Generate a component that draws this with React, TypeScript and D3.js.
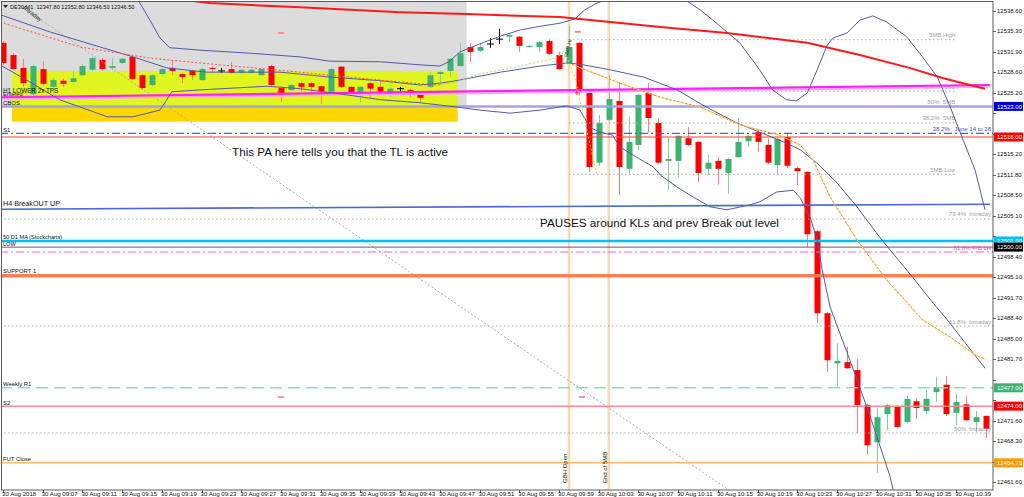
import React from "react";
import * as d3 from "d3";

// ---------- candle data (DE30, M1, 30 Aug 2018, 09:03 .. 10:42) ----------
const opens = [
  12533.4, 12531.4, 12529.3, 12525.0, 12529.1, 12526.2, 12527.2, 12527.0, 12528.1, 12529.0,
  12530.6, 12529.3, 12530.1, 12531.1, 12528.1, 12526.5, 12528.3, 12529.3, 12528.3, 12528.8,
  12527.3, 12529.3, 12528.8, 12529.1, 12528.5, 12528.5, 12528.1, 12529.6, 12526.0, 12525.7,
  12526.8, 12526.8, 12526.3, 12525.4, 12529.5, 12526.2, 12525.2, 12526.8, 12526.2, 12525.0,
  12525.9, 12525.7, 12524.9, 12526.2, 12528.3, 12528.8, 12529.6, 12532.7, 12532.1, 12533.2,
  12534.0, 12534.4, 12534.4, 12532.7, 12532.7, 12533.7, 12531.4, 12530.1, 12533.4, 12525.2,
  12513.8, 12520.8, 12523.9, 12512.8, 12516.7, 12525.2, 12520.3, 12514.1, 12514.1, 12517.8,
  12517.2, 12512.8, 12514.1, 12512.1, 12514.7, 12517.3, 12518.8, 12516.7, 12513.4, 12518.0,
  12512.9, 12512.3, 12502.6, 12489.2, 12481.0, 12481.2, 12479.9, 12474.2, 12468.1, 12472.7,
  12473.9, 12471.4, 12474.8, 12473.2, 12476.3, 12477.5, 12472.9, 12474.3, 12471.4, 12472.4,
];
const highs = [
  12533.7, 12531.7, 12530.8, 12529.8, 12530.4, 12527.6, 12527.5, 12528.8, 12529.9, 12531.1,
  12530.9, 12530.9, 12530.9, 12531.2, 12528.3, 12528.3, 12529.3, 12530.6, 12528.5, 12529.0,
  12529.3, 12529.5, 12529.3, 12530.3, 12529.1, 12529.1, 12529.3, 12529.8, 12526.3, 12526.7,
  12527.0, 12527.0, 12526.5, 12529.3, 12529.6, 12526.3, 12526.3, 12527.0, 12527.2, 12526.0,
  12526.2, 12525.9, 12525.0, 12528.6, 12528.8, 12530.9, 12533.4, 12533.4, 12533.4, 12534.2,
  12535.7, 12535.0, 12534.5, 12533.0, 12533.7, 12534.0, 12531.9, 12536.3, 12533.5, 12525.4,
  12521.6, 12528.1, 12527.0, 12521.3, 12525.0, 12526.8, 12521.1, 12518.0, 12518.3, 12519.6,
  12517.3, 12515.1, 12514.7, 12514.6, 12521.1, 12518.3, 12519.3, 12517.8, 12517.8, 12518.7,
  12513.1, 12512.4, 12502.8, 12489.4, 12484.3, 12483.7, 12481.7, 12474.3, 12473.7, 12474.3,
  12474.2, 12475.7, 12475.3, 12476.6, 12478.8, 12478.9, 12476.1, 12475.7, 12473.2, 12472.5,
];
const lows = [
  12529.8, 12529.0, 12526.2, 12524.5, 12526.5, 12525.0, 12526.2, 12526.8, 12528.0, 12528.8,
  12528.8, 12529.0, 12529.9, 12527.3, 12525.7, 12526.3, 12528.1, 12528.1, 12526.8, 12527.3,
  12527.2, 12528.5, 12528.5, 12528.3, 12528.3, 12528.3, 12528.0, 12526.2, 12523.7, 12525.5,
  12525.4, 12525.4, 12523.4, 12525.2, 12526.0, 12525.0, 12523.6, 12524.5, 12525.2, 12524.5,
  12525.4, 12524.5, 12523.7, 12526.0, 12527.0, 12527.8, 12529.5, 12530.3, 12531.9, 12532.6,
  12533.2, 12533.5, 12531.9, 12532.6, 12531.9, 12531.4, 12529.0, 12529.9, 12524.9, 12512.3,
  12513.3, 12520.6, 12508.5, 12511.8, 12515.9, 12518.7, 12513.6, 12509.3, 12511.3, 12516.5,
  12510.6, 12511.8, 12510.2, 12508.7, 12514.6, 12516.4, 12515.6, 12513.6, 12511.8, 12512.9,
  12510.2, 12500.0, 12487.6, 12479.6, 12477.0, 12480.1, 12469.6, 12466.0, 12463.1, 12470.1,
  12470.4, 12471.2, 12471.9, 12472.7, 12474.7, 12472.4, 12470.9, 12471.6, 12469.8, 12468.8,
];
const closes = [
  12530.1, 12529.1, 12526.8, 12529.6, 12526.7, 12527.3, 12526.7, 12527.6, 12529.6, 12530.9,
  12529.1, 12529.6, 12530.8, 12527.5, 12526.0, 12528.1, 12529.1, 12528.8, 12527.8, 12528.1,
  12529.1, 12529.1, 12528.8, 12528.5, 12529.0, 12529.0, 12529.1, 12526.5, 12525.2, 12526.5,
  12526.2, 12526.2, 12525.5, 12529.1, 12526.2, 12525.2, 12526.2, 12525.9, 12525.4, 12525.9,
  12525.9, 12525.2, 12524.4, 12528.1, 12528.6, 12530.8, 12531.7, 12531.9, 12532.7, 12533.2,
  12534.0, 12534.7, 12532.9, 12532.9, 12533.5, 12531.6, 12529.1, 12532.7, 12525.4, 12513.1,
  12520.3, 12524.2, 12513.1, 12517.2, 12524.9, 12521.1, 12513.8, 12514.4, 12518.2, 12516.7,
  12512.1, 12513.8, 12512.8, 12514.4, 12517.2, 12518.2, 12517.2, 12513.8, 12517.7, 12513.3,
  12512.4, 12502.1, 12489.2, 12481.5, 12481.4, 12480.2, 12474.2, 12467.6, 12472.2, 12474.2,
  12470.6, 12475.2, 12473.7, 12475.2, 12477.1, 12472.7, 12474.7, 12471.7, 12472.2, 12470.3,
];

// ---------- axis ticks ----------
const timeTickBars = [0, 4, 8, 12, 16, 20, 24, 28, 32, 36, 40, 44, 48, 52, 56, 60, 64, 68, 72, 76, 80, 84, 88, 92, 96];
const timeTickLabels = [
  "30 Aug 2018", "30 Aug 09:07", "30 Aug 09:11", "30 Aug 09:15", "30 Aug 09:19", "30 Aug 09:23",
  "30 Aug 09:27", "30 Aug 09:31", "30 Aug 09:35", "30 Aug 09:39", "30 Aug 09:43", "30 Aug 09:47",
  "30 Aug 09:51", "30 Aug 09:55", "30 Aug 09:59", "30 Aug 10:03", "30 Aug 10:07", "30 Aug 10:11",
  "30 Aug 10:15", "30 Aug 10:19", "30 Aug 10:23", "30 Aug 10:27", "30 Aug 10:31", "30 Aug 10:35",
  "30 Aug 10:39",
];
const priceTicks = [
  12538.6, 12535.3, 12531.9, 12528.6, 12525.2, 12521.9, 12518.5, 12515.2, 12511.8, 12508.5,
  12505.1, 12501.8, 12498.4, 12495.1, 12491.7, 12488.4, 12485.0, 12481.7, 12478.3, 12475.0,
  12471.6, 12468.3, 12464.9, 12461.6,
];

// ---------- indicators: [bar, price] ----------
const upperBand: [number, number][] = [
  [13.6, 12540.4], [14.8, 12537.1], [15.8, 12534.2], [16.8, 12532.6], [19.8, 12532.2], [24.9, 12531.7],
  [29.9, 12531.1], [32.9, 12530.4], [38.0, 12530.3], [42.0, 12529.8], [44.0, 12529.6], [45.0, 12530.4],
  [46.0, 12531.9], [48.0, 12533.2], [50.1, 12534.5], [52.1, 12535.5], [54.1, 12536.1], [56.1, 12536.6],
  [57.6, 12537.3], [58.6, 12538.8], [59.6, 12539.7], [60.6, 12540.4], [62.1, 12542.0], [64.1, 12543.7],
  [66.7, 12542.4], [68.7, 12540.4], [70.2, 12538.8], [71.5, 12537.1], [74.2, 12533.4], [76.2, 12529.0],
  [77.5, 12525.7], [78.9, 12524.1], [79.9, 12523.9], [81.0, 12525.2], [82.0, 12529.0], [83.0, 12533.0],
  [83.6, 12534.2], [85.0, 12535.0], [86.3, 12537.1], [87.6, 12537.8], [89.0, 12536.8], [91.0, 12534.4],
  [92.6, 12531.1], [94.1, 12527.8], [95.4, 12522.9], [96.7, 12517.5], [97.9, 12512.6], [98.9, 12506.1],
];
const middleBand: [number, number][] = [
  [-0.3, 12538.0], [4.7, 12535.2], [9.8, 12532.7], [13.1, 12531.1], [16.5, 12529.3], [20.5, 12528.6],
  [27.9, 12528.6], [32.9, 12527.8], [38.0, 12527.2], [42.0, 12526.5], [44.0, 12526.8], [46.0, 12527.3],
  [50.1, 12528.6], [54.1, 12529.6], [56.8, 12530.1], [58.1, 12529.9], [61.1, 12529.0], [64.5, 12527.8],
  [67.9, 12525.7], [70.5, 12523.2], [73.9, 12520.3], [76.2, 12518.8], [78.9, 12517.0], [80.3, 12515.9],
  [82.0, 12513.7], [84.0, 12510.5], [86.0, 12506.6], [88.3, 12501.6], [91.6, 12495.1], [93.4, 12491.4],
  [95.1, 12488.1], [98.9, 12480.2],
];
const lowerBand: [number, number][] = [
  [-0.3, 12529.8], [2.7, 12527.0], [5.7, 12524.1], [10.5, 12521.3], [13.1, 12521.3], [15.8, 12522.4],
  [16.5, 12524.1], [17.0, 12525.4], [19.8, 12525.7], [26.6, 12526.3], [29.9, 12525.9], [34.6, 12524.9],
  [38.0, 12524.1], [42.0, 12523.6], [45.7, 12522.9], [48.0, 12522.4], [51.1, 12521.9], [54.1, 12522.4],
  [56.8, 12523.1], [58.1, 12522.4], [59.1, 12519.6], [60.1, 12518.8], [61.4, 12518.3], [62.1, 12516.4],
  [63.4, 12515.1], [65.5, 12513.1], [66.2, 12511.8], [67.9, 12509.8], [69.5, 12508.2], [71.2, 12506.6],
  [72.9, 12506.1], [75.2, 12506.9], [76.2, 12507.4], [77.9, 12509.0], [79.6, 12509.3], [80.3, 12508.0],
  [81.3, 12504.8], [82.0, 12501.2], [82.5, 12496.3], [83.3, 12490.2], [85.3, 12481.5], [87.3, 12472.5],
  [89.3, 12462.7], [89.9, 12458.6],
];
const slowMA: [number, number][] = [
  [16.8, 12540.7], [20.8, 12539.9], [29.9, 12539.2], [40.0, 12538.4], [46.7, 12538.1], [56.1, 12537.6],
  [66.2, 12536.0], [72.9, 12535.0], [81.0, 12533.4], [86.3, 12531.4], [91.3, 12529.3], [94.7, 12527.6],
  [98.9, 12525.9],
];
const maFalling: [number, number][] = [
  [-0.3, 12536.8], [7.8, 12532.7], [14.8, 12530.9], [19.8, 12530.1], [29.9, 12528.6], [38.0, 12527.3],
  [42.0, 12526.7], [44.0, 12526.5],
];
const maRising: [number, number][] = [
  [44.0, 12526.5], [46.0, 12527.2], [48.0, 12528.3], [52.1, 12529.6], [55.6, 12530.9],
];
const fastMA: [number, number][] = [
  [55.6, 12530.9], [56.6, 12531.9], [57.6, 12527.6], [58.6, 12520.5], [59.8, 12511.9],
];
const orangeMA: [number, number][] = [
  [57.3, 12529.9], [58.6, 12529.0], [60.1, 12528.1], [62.1, 12526.8], [64.1, 12525.7], [66.2, 12524.5],
  [70.2, 12522.9], [74.2, 12520.0], [78.2, 12518.3], [80.3, 12516.7], [81.6, 12514.2], [83.3, 12508.2],
  [86.0, 12501.2], [89.0, 12494.6], [90.8, 12491.4], [92.6, 12488.1], [95.4, 12485.3], [97.9, 12482.4],
  [98.9, 12481.7],
];

// ---------- chart objects ----------
const greyZoneBars = [-0.5, 46.7];
const greyZonePrices = [12523.0, 12542.0];
const yellowZoneBars = [0.9, 45.8];
const yellowZonePrices = [12523.0, 12528.8];
const goldZonePrices = [12520.5, 12523.0];

const lowerTrendBars = [-0.3, 99.4];
const lowerTrendPrices = [12524.5, 12526.5];
const breakoutBars = [-0.3, 99.4];
const breakoutPrices = [12506.2, 12507.0];
const diagonalBars = [0.9, 73.0];
const diagonalPrices = [12540.4, 12460.4];

const smbBars = [57, 95.9];
const smbPrices = [12533.9, 12525.5, 12523.0, 12520.3, 12511.9];
const smbLabels = ["5MB High", "61.8%  5MB", "50%  5MB", "38.2%  5MB", "5MB Low"];
const intradayPrices = [12504.6, 12487.1, 12469.6];
const intradayLabels = ["73.4%  Intraday", "61.8%  Intraday", "50%  Intraday"];

const cbosPrice = 12523.0;
const s1Price = 12518.6;
const redLevelPrice = 12518.0;
const d1MaPrice = 12501.0;
const lowPrice = 12500.0;
const fib1hPrice = 12499.2;
const support1Price = 12495.3;
const weeklyR1Price = 12477.0;
const s2Price = 12474.0;
const futClosePrice = 12464.73;

const verticalBars = [57, 61];
const verticalLabels = ["GBH Open", "End of 5MB"];

const tradeDashBars = [28, 57.9, 28, 58.3];
const tradeDashPrices = [12535.0, 12535.2, 12475.5, 12475.5];
const crossBars = [27.8, 57.8];
const crossPrices = [12525.4, 12525.2];

const boxPrices = [12523.0, 12518.0, 12501.0, 12500.0, 12477.0, 12474.0, 12464.73];
const boxFills = ["#0000d8", "#ff0000", "#00bfff", "#000000", "#3cb371", "#ff0000", "#ff9900"];

export default function App() {
  const W = 1024;
  const H = 497;
  const plotR = 993;
  const plotB = 490;
  const font = "'Liberation Sans', Arial, sans-serif";

  const x = d3.scaleLinear().domain([0, 99]).range([3, 986]);
  const y = d3.scaleLinear().domain([12461.6, 12538.6]).range([482, 11]);
  const line = d3.line<[number, number]>().x((d) => x(d[0])).y((d) => y(d[1]));
  const band = "#5757aa";
  const dotted = "1.5 2.5";

  const visibleTicks = priceTicks.filter((p) => boxPrices.every((b) => Math.abs(y(b) - y(p)) > 8.5));

  const hLine = (p: number, stroke: string, sw: number, dash?: string, key?: string) => (
    <line key={key} x1={0} x2={plotR} y1={y(p)} y2={y(p)} stroke={stroke} strokeWidth={sw} strokeDasharray={dash} />
  );
  const leftLabel = (p: number, text: string, size = 6, dy = -2) => (
    <text x={3} y={y(p) + dy} fontSize={size} fill="#111" style={{ whiteSpace: "pre" }}>{text}</text>
  );
  const rightLabel = (p: number, text: string, fill: string, key?: string, endX = 991) => (
    <text key={key} x={endX} y={y(p) - 2.5} fontSize={6} fill={fill} textAnchor="end" style={{ whiteSpace: "pre" }}>{text}</text>
  );

  return (
    <div style={{ position: "fixed", left: 0, top: 0, width: W, height: H, background: "#fff" }}>
      <svg width={W} height={H} style={{ display: "block" }} fontFamily={font}>
        <defs>
          <clipPath id="plot">
            <rect x={1.5} y={1.5} width={plotR - 1.5} height={plotB - 1.5} />
          </clipPath>
        </defs>
        <rect x={0} y={0} width={W} height={H} fill="#fff" />

        <g clipPath="url(#plot)">
          {/* background zones */}
          <rect x={x(greyZoneBars[0])} width={x(greyZoneBars[1]) - x(greyZoneBars[0])}
            y={y(greyZonePrices[1])} height={y(greyZonePrices[0]) - y(greyZonePrices[1])} fill="#dcdcdc" />
          <rect x={x(yellowZoneBars[0])} width={x(yellowZoneBars[1]) - x(yellowZoneBars[0])}
            y={y(yellowZonePrices[1])} height={y(yellowZonePrices[0]) - y(yellowZonePrices[1])} fill="#e1f51f" />
          <rect x={x(yellowZoneBars[0])} width={x(yellowZoneBars[1]) - x(yellowZoneBars[0])}
            y={y(goldZonePrices[1])} height={y(goldZonePrices[0]) - y(goldZonePrices[1])} fill="#ffd700" />

          {/* vertical session lines */}
          {verticalBars.map((b, i) => (
            <line key={"v" + i} x1={x(b)} x2={x(b)} y1={0} y2={plotB} stroke="#ffd7b0" strokeWidth={2.5} />
          ))}

          {/* candles */}
          {opens.map((o, i) => {
            const c = closes[i];
            const up = c > o;
            const flat = c === o;
            const body = flat ? "#000" : up ? "#3cb371" : "#ff0000";
            const wick = flat ? "#000" : up ? "#7fcfa0" : "#ff7a7a";
            const cx = Math.round(x(i)) + 0.5;
            const top = y(Math.max(o, c));
            const bot = y(Math.min(o, c));
            return (
              <g key={"c" + i}>
                <line x1={cx} x2={cx} y1={y(highs[i])} y2={y(lows[i])} stroke={wick} strokeWidth={1} />
                {flat ? (
                  <line x1={cx - 3.5} x2={cx + 3.5} y1={top} y2={top} stroke="#000" strokeWidth={1} />
                ) : (
                  <rect x={cx - 3} y={top} width={6} height={Math.max(1, bot - top)} fill={body} />
                )}
              </g>
            );
          })}

          {/* diagonal trend line */}
          <line x1={x(diagonalBars[0])} y1={y(diagonalPrices[0])} x2={x(diagonalBars[1])} y2={y(diagonalPrices[1])}
            stroke="#aaa" strokeWidth={1} strokeDasharray="2 2" />

          {/* 5MB levels */}
          {smbPrices.map((p, i) => (
            <g key={"s" + i}>
              <line x1={x(smbBars[0])} x2={x(smbBars[1])} y1={y(p)} y2={y(p)} stroke="#a8a8a8" strokeWidth={1} strokeDasharray={dotted} />
              {rightLabel(p, smbLabels[i], "#a0a0a0", undefined, x(smbBars[1]))}
            </g>
          ))}
          {/* intraday fib levels */}
          {intradayPrices.map((p, i) => (
            <g key={"in" + i}>
              {hLine(p, "#a8a8a8", 1, dotted)}
              {rightLabel(p, intradayLabels[i], "#a0a0a8")}
            </g>
          ))}

          {/* horizontal levels */}
          {hLine(cbosPrice, "#a4a4e0", 2.5)}
          {hLine(s1Price, "#4a5ee8", 1.2, "8 3 2 3")}
          {rightLabel(s1Price, "38.2%   June 14 to 28", "#3c50e0")}
          {hLine(redLevelPrice, "#ff4040", 1)}
          <line x1={x(breakoutBars[0])} x2={x(breakoutBars[1])} y1={y(breakoutPrices[0])} y2={y(breakoutPrices[1])}
            stroke="#4a6ad8" strokeWidth={1.6} />
          {hLine(d1MaPrice, "#00bfff", 2.5)}
          {hLine(lowPrice, "#606060", 1)}
          {hLine(fib1hPrice, "#ff5ad2", 1, "8 3 2 3")}
          {rightLabel(fib1hPrice, "61.8% FIB 1H", "#ff40c0")}
          {hLine(support1Price, "#ff7f50", 3.5)}
          {hLine(weeklyR1Price, "#95dab5", 1.5, "12 6")}
          {hLine(s2Price, "#ff8c8c", 1.5)}
          {hLine(futClosePrice, "#ffb870", 1.5)}

          {/* magenta trend line */}
          <line x1={x(lowerTrendBars[0])} x2={x(lowerTrendBars[1])} y1={y(lowerTrendPrices[0]) + 2} y2={y(lowerTrendPrices[1]) + 2}
            stroke="#ffa0ff" strokeWidth={1.6} />
          <line x1={x(lowerTrendBars[0])} x2={x(lowerTrendBars[1])} y1={y(lowerTrendPrices[0])} y2={y(lowerTrendPrices[1])}
            stroke="#ff1eff" strokeWidth={2.2} />

          {/* indicators */}
          <path d={line(slowMA) || ""} fill="none" stroke="#ff1a1a" strokeWidth={2} />
          <path d={line(upperBand) || ""} fill="none" stroke={band} strokeWidth={1} />
          <path d={line(middleBand) || ""} fill="none" stroke={band} strokeWidth={1} />
          <path d={line(lowerBand) || ""} fill="none" stroke={band} strokeWidth={1} />
          <path d={line(maFalling) || ""} fill="none" stroke="#ff5050" strokeWidth={1} strokeDasharray="2 2" />
          <path d={line(maRising) || ""} fill="none" stroke="#9fe05a" strokeWidth={1} strokeDasharray="2 2" />
          <path d={line(fastMA) || ""} fill="none" stroke="#ffd800" strokeWidth={1} strokeDasharray="2 2" />
          <path d={line(orangeMA) || ""} fill="none" stroke="#ffe060" strokeWidth={1} />
          <path d={line(orangeMA) || ""} fill="none" stroke="#ff7a20" strokeWidth={1} strokeDasharray="2 2" />

          {/* trade markers */}
          {tradeDashBars.map((b, i) => (
            <line key={"td" + i} x1={x(b) - 3} x2={x(b) + 3} y1={y(tradeDashPrices[i])} y2={y(tradeDashPrices[i])}
              stroke="#ff5050" strokeWidth={1.2} />
          ))}
          {crossBars.map((b, i) => (
            <g key={"cr" + i} stroke="#ff3030" strokeWidth={1}>
              <line x1={x(b) - 2} x2={x(b) + 2} y1={y(crossPrices[i])} y2={y(crossPrices[i])} />
              <line x1={x(b)} x2={x(b)} y1={y(crossPrices[i]) - 2} y2={y(crossPrices[i]) + 2} />
            </g>
          ))}

          {/* left labels */}
          {leftLabel(lowerTrendPrices[0], "H1 LOWER 2x TPS", 6.3, -4)}
          {leftLabel(lowerTrendPrices[0], "Entered", 5.6, -1)}
          {leftLabel(cbosPrice, "CBOS", 6, -1.5)}
          {leftLabel(s1Price, "S1", 6, -1)}
          {leftLabel(breakoutPrices[0], "H4 BreakOUT UP", 7.2, -3)}
          {leftLabel(d1MaPrice, "50 D1 MA (Stockcharts)", 5.6, -1.5)}
          {leftLabel(lowPrice, "LOW", 5.6, -1.5)}
          {leftLabel(support1Price, "SUPPORT 1", 5.9, -2.5)}
          {leftLabel(weeklyR1Price, "Weekly R1", 5.9, -1.5)}
          {leftLabel(s2Price, "S2", 5.9, -1.5)}
          {leftLabel(futClosePrice, "FUT Close", 5.9, -2)}

          {/* vertical line labels */}
          {verticalBars.map((b, i) => (
            <text key={"vl" + i} transform={`translate(${x(b) - 1.5},${plotB - 7}) rotate(-90)`} fontSize={6} fill="#111">
              {verticalLabels[i]}
            </text>
          ))}
          <text transform={`translate(${x(57) - 1},${y(12531.0)}) rotate(-78)`} fontSize={5.5} fill="#333">5MB Hi</text>
          <text transform={`translate(${x(2.0)},${y(12539.0)}) rotate(38)`} fontSize={6} fill="#222">Intraday</text>

          {/* annotations */}
          <text x={232} y={156} fontSize={11.7} fill="#111">This PA here tells you that the TL is active</text>
          <text x={540} y={226.5} fontSize={11.7} fill="#111">PAUSES around KLs and prev Break out level</text>
        </g>

        {/* header */}
        <path d="M3,5 L8,5 L5.5,8 Z" fill="#222" />
        <text x={10} y={9} fontSize={5.6} fill="#111" style={{ whiteSpace: "pre" }}>DE30,M1  12347.80 12352.80 12346.50 12346.50</text>

        {/* frame */}
        <rect x={1.5} y={1.5} width={plotR - 1.5} height={plotB - 1.5} fill="none" stroke="#5a5a5a" strokeWidth={1} />

        {/* price axis */}
        {priceTicks.map((p, i) => (
          <line key={"ptk" + i} x1={plotR} x2={plotR + 3} y1={Math.round(y(p)) + 0.5} y2={Math.round(y(p)) + 0.5} stroke="#5a5a5a" />
        ))}
        {visibleTicks.map((p, i) => (
          <text key={"pt" + i} x={997} y={y(p) + 2} fontSize={6} fill="#111">{p.toFixed(2)}</text>
        ))}
        {boxPrices.map((p, i) => (
          <g key={"bx" + i}>
            <rect x={994} y={y(p) - 4.5} width={29} height={9} fill={boxFills[i]} />
            <text x={997} y={y(p) + 2.2} fontSize={6} fill="#fff">{p.toFixed(2)}</text>
          </g>
        ))}

        {/* time axis */}
        {timeTickBars.map((b, i) => (
          <g key={"tt" + i}>
            <line x1={Math.round(x(b)) + 0.5} x2={Math.round(x(b)) + 0.5} y1={plotB} y2={plotB + 3} stroke="#5a5a5a" />
            <text x={x(b) - 1} y={496} fontSize={6.1} fill="#111">{timeTickLabels[i]}</text>
          </g>
        ))}
      </svg>
    </div>
  );
}
